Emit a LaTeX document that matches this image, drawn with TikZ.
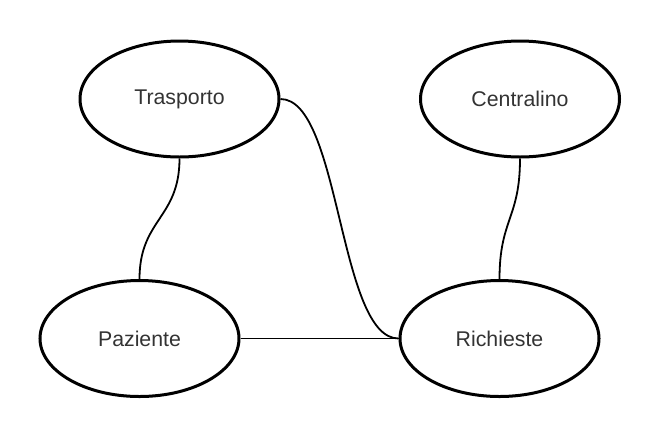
\documentclass[tikz,border=0pt]{standalone}
\usepackage{fontspec}
\setmainfont{Liberation Sans}
\usetikzlibrary{shapes.geometric}
\definecolor{txt}{HTML}{333333}
\begin{document}
\begin{tikzpicture}[x=1pt,y=-1pt,
  entity/.style={ellipse,draw=black,line width=3pt,minimum width=199pt,minimum height=116pt,inner sep=0pt,
    text=txt,font=\fontsize{21.3}{25}\selectfont},
  link/.style={draw=black,line width=1.8pt}]
\path[use as bounding box] (0,0) rectangle (660,440);
\node[entity] (tr) at (179.5,99) {Trasporto};
\node[entity] (ce) at (520,99) {Centralino};
\node[entity] (pa) at (139.5,338.5) {Paziente};
\node[entity] (ri) at (499.5,338.5) {Richieste};
\draw[link] (tr.south) .. controls +(0,60) and +(0,-60) .. (pa.north);
\draw[link] (ce.south) .. controls +(0,60) and +(0,-60) .. (ri.north);
\draw[link] (tr.east) .. controls +(60,0) and +(-60,0) .. (ri.west);
\draw[link] (pa.east) -- (ri.west);
\end{tikzpicture}
\end{document}
